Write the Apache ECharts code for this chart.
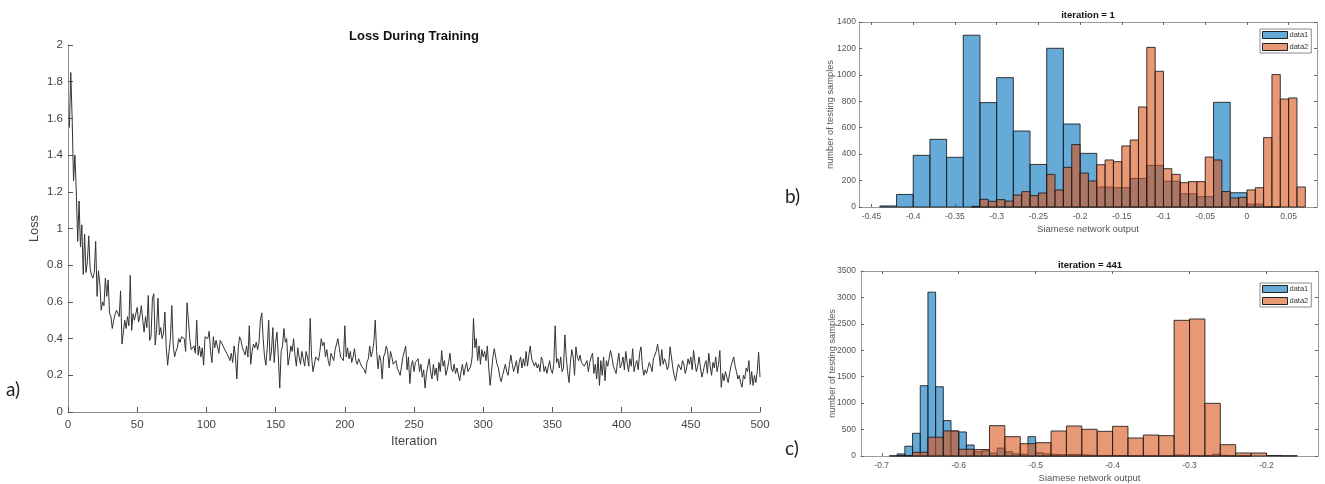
<!DOCTYPE html>
<html><head><meta charset="utf-8">
<script src="https://cdn.jsdelivr.net/npm/echarts@6/dist/echarts.min.js"></script>
<style>html,body{margin:0;padding:0;background:#fff}#c{width:1325px;height:484px}</style>
</head><body><div id="c"></div>
<script>
// ---------- a) Loss During Training (iterations 1..500) ----------
const lossValues = [
1.55,1.85,1.60,1.26,1.40,1.20,0.93,1.15,0.90,1.02,
0.75,0.97,0.76,0.82,0.96,0.78,0.745,0.73,0.76,0.93,
0.63,0.77,0.70,0.555,0.60,0.58,0.73,0.63,0.72,0.54,
0.52,0.455,0.50,0.53,0.555,0.54,0.52,0.66,0.37,0.38,
0.50,0.455,0.52,0.47,0.745,0.445,0.535,0.50,0.51,0.57,
0.49,0.525,0.58,0.50,0.435,0.52,0.46,0.635,0.39,0.41,
0.62,0.645,0.365,0.45,0.62,0.42,0.46,0.40,0.43,0.545,
0.35,0.255,0.33,0.40,0.58,0.37,0.30,0.33,0.35,0.40,
0.38,0.41,0.42,0.40,0.33,0.595,0.50,0.40,0.34,0.335,
0.36,0.32,0.50,0.31,0.36,0.30,0.35,0.255,0.41,0.42,
0.40,0.44,0.33,0.27,0.41,0.35,0.39,0.38,0.32,0.39,
0.39,0.36,0.35,0.33,0.34,0.30,0.28,0.32,0.27,0.36,
0.30,0.18,0.35,0.41,0.39,0.35,0.33,0.31,0.36,0.30,
0.47,0.26,0.33,0.37,0.35,0.38,0.34,0.38,0.50,0.54,
0.40,0.30,0.255,0.35,0.50,0.28,0.33,0.46,0.27,0.38,
0.435,0.30,0.13,0.33,0.36,0.455,0.38,0.40,0.255,0.30,
0.36,0.33,0.40,0.31,0.25,0.35,0.30,0.26,0.33,0.29,
0.25,0.33,0.30,0.25,0.51,0.30,0.22,0.23,0.30,0.29,
0.28,0.33,0.40,0.36,0.38,0.30,0.34,0.28,0.25,0.32,
0.30,0.28,0.34,0.33,0.40,0.35,0.30,0.31,0.28,0.47,
0.30,0.35,0.29,0.33,0.27,0.30,0.345,0.28,0.26,0.29,
0.27,0.25,0.26,0.23,0.21,0.27,0.29,0.36,0.30,0.33,
0.38,0.50,0.33,0.235,0.31,0.28,0.18,0.30,0.32,0.36,
0.33,0.24,0.33,0.30,0.26,0.25,0.28,0.235,0.22,0.20,
0.25,0.30,0.33,0.36,0.23,0.30,0.155,0.25,0.28,0.22,
0.27,0.28,0.29,0.22,0.26,0.19,0.23,0.13,0.21,0.20,
0.29,0.22,0.18,0.26,0.20,0.24,0.17,0.27,0.22,0.335,
0.25,0.28,0.20,0.23,0.27,0.32,0.24,0.22,0.26,0.21,
0.24,0.23,0.17,0.22,0.26,0.20,0.24,0.27,0.22,0.23,
0.25,0.30,0.51,0.35,0.40,0.28,0.36,0.26,0.34,0.30,
0.33,0.28,0.36,0.24,0.145,0.22,0.30,0.345,0.30,0.26,
0.24,0.19,0.165,0.20,0.23,0.26,0.22,0.20,0.26,0.31,
0.26,0.22,0.25,0.28,0.21,0.27,0.30,0.24,0.29,0.25,
0.33,0.25,0.31,0.36,0.29,0.30,0.25,0.27,0.24,0.26,
0.22,0.30,0.28,0.22,0.25,0.21,0.20,0.28,0.23,0.21,
0.26,0.47,0.27,0.29,0.24,0.30,0.22,0.24,0.42,0.30,
0.22,0.16,0.27,0.34,0.30,0.20,0.355,0.30,0.28,0.31,
0.27,0.26,0.25,0.245,0.28,0.22,0.27,0.30,0.32,0.21,
0.26,0.18,0.30,0.145,0.28,0.20,0.30,0.17,0.28,0.25,
0.26,0.335,0.30,0.25,0.23,0.21,0.27,0.32,0.24,0.26,
0.30,0.23,0.33,0.27,0.22,0.29,0.25,0.345,0.22,0.26,
0.28,0.23,0.32,0.355,0.25,0.20,0.23,0.21,0.24,0.27,
0.25,0.22,0.29,0.30,0.33,0.37,0.32,0.25,0.34,0.26,
0.29,0.27,0.23,0.25,0.355,0.30,0.24,0.20,0.17,0.22,
0.26,0.25,0.23,0.28,0.26,0.21,0.24,0.29,0.26,0.30,
0.23,0.335,0.27,0.22,0.25,0.30,0.24,0.19,0.22,0.26,
0.28,0.21,0.32,0.25,0.20,0.27,0.24,0.30,0.22,0.26,
0.335,0.135,0.21,0.17,0.22,0.19,0.16,0.21,0.25,0.24,
0.30,0.25,0.22,0.18,0.20,0.16,0.135,0.20,0.18,0.24,
0.22,0.28,0.15,0.22,0.145,0.20,0.16,0.22,0.325,0.19
];

// ---------- b) iteration = 1 ----------
const bData1Start = -0.44, bData1Width = 0.02;
const bData1Counts = [8,95,391,512,376,1300,790,979,575,322,1201,628,406,151,146,216,315,195,100,78,792,108,22,2];
const bData2Start = -0.33, bData2Width = 0.01;
const bData2Counts = [5,58,43,56,45,91,116,86,106,247,129,300,472,257,197,320,356,343,462,507,757,1208,1027,290,247,184,192,192,378,356,117,68,73,129,146,525,1002,817,825,151];
const bXTicks = [-0.45,-0.4,-0.35,-0.3,-0.25,-0.2,-0.15,-0.1,-0.05,0,0.05];

// ---------- c) iteration = 441 ----------
const cData1Start = -0.69, cData1Width = 0.01;
const cData1Counts = [5,40,185,430,1330,3100,1310,670,470,455,208,80,100,55,150,80,40,35,365,60,40,30,25,30,30,20,15,10,10,10,10,5,5,5,5,5,5,20,15,10,5,10,35,15,10,5,5];
const cData2Start = -0.68, cData2Width = 0.02;
const cData2Counts = [10,70,355,475,128,122,574,366,233,252,473,568,505,467,561,341,397,385,2567,2592,997,214,57,57,10,5];
const cXTicks = [-0.7,-0.6,-0.5,-0.4,-0.3,-0.2];

function bins(start, width, counts) {
  return counts.map((c, i) => [
    Math.round((start + i * width) * 1e6) / 1e6,
    Math.round((start + (i + 1) * width) * 1e6) / 1e6,
    c
  ]);
}

const BLUE = 'rgba(0,114,189,0.6)';
const ORANGE = 'rgba(217,83,25,0.6)';
const EDGE = 'rgba(25,25,25,0.85)';
const FONT = 'Liberation Sans, Arial, sans-serif';

function renderBin(params, api) {
  const p0 = api.coord([api.value(0), api.value(2)]);
  const p1 = api.coord([api.value(1), 0]);
  return {
    type: 'rect',
    shape: { x: p0[0], y: p0[1], width: p1[0] - p0[0], height: p1[1] - p0[1] },
    style: { fill: api.visual('color'), stroke: EDGE, lineWidth: 1 }
  };
}

const fmt = v => String(+(+v).toFixed(3));

function histX(grid, min, max, ticks, name) {
  return [
    { gridIndex: grid, type: 'value', min: min, max: max,
      axisLine: { onZero: false, lineStyle: { color: '#9a9a9a' } },
      axisTick: { inside: true, length: 3, customValues: ticks, lineStyle: { color: '#666' } },
      axisLabel: { customValues: ticks, formatter: fmt, fontSize: 8.5, color: '#555', margin: 5, fontFamily: FONT },
      splitLine: { show: false },
      name: name, nameLocation: 'middle', nameGap: 17, nameMoveOverlap: false,
      nameTextStyle: { fontSize: 9.5, color: '#555', fontFamily: FONT } },
    { gridIndex: grid, type: 'value', position: 'top', min: min, max: max,
      axisLine: { onZero: false, lineStyle: { color: '#9a9a9a' } },
      axisTick: { inside: true, length: 3, customValues: ticks, lineStyle: { color: '#666' } },
      axisLabel: { show: false }, splitLine: { show: false } }
  ];
}
function histY(grid, max, interval, margin) {
  return [
    { gridIndex: grid, type: 'value', min: 0, max: max, interval: interval,
      axisLine: { show: true, onZero: false, lineStyle: { color: '#9a9a9a' } },
      axisTick: { show: true, inside: true, length: 3, lineStyle: { color: '#666' } },
      axisLabel: { formatter: v => String(v), fontSize: 8.5, color: '#555', margin: margin, fontFamily: FONT },
      splitLine: { show: false },
      name: 'number of testing samples', nameLocation: 'middle', nameGap: 24, nameMoveOverlap: false,
      nameTextStyle: { fontSize: 9.3, color: '#555', fontFamily: FONT } },
    { gridIndex: grid, type: 'value', position: 'right', min: 0, max: max, interval: interval,
      axisLine: { show: true, onZero: false, lineStyle: { color: '#9a9a9a' } },
      axisTick: { show: true, inside: true, length: 3, lineStyle: { color: '#666' } },
      axisLabel: { show: false }, splitLine: { show: false } }
  ];
}

function legendAt(left, top) {
  return {
    left: left, top: top, orient: 'vertical',
    padding: [2, 3, 2, 2], itemGap: 4, itemWidth: 25, itemHeight: 7,
    borderColor: '#8a8a8a', borderWidth: 1, backgroundColor: '#fff',
    icon: 'rect', selectedMode: false,
    itemStyle: { borderColor: '#222', borderWidth: 1 },
    textStyle: { fontSize: 7.5, color: '#333', fontFamily: FONT, padding: [0, 0, 0, -3] },
    data: ['data1', 'data2']
  };
}

const chart = echarts.init(document.getElementById('c'), null, { renderer: 'canvas' });
chart.setOption({
  animation: false,
  backgroundColor: '#fff',
  grid: [
    { left: 68, top: 45, width: 692, height: 367 },
    { left: 859, top: 22, width: 458, height: 185 },
    { left: 861, top: 271, width: 457, height: 185 }
  ],
  xAxis: [
    { gridIndex: 0, type: 'value', min: 0, max: 500, interval: 50,
      axisLine: { onZero: false, lineStyle: { color: '#8c8c8c' } },
      axisTick: { inside: true, length: 5, lineStyle: { color: '#555' } },
      axisLabel: { fontSize: 11.5, color: '#444', margin: 7, fontFamily: FONT },
      splitLine: { show: false },
      name: 'Iteration', nameLocation: 'middle', nameGap: 23, nameMoveOverlap: false,
      nameTextStyle: { fontSize: 12.8, color: '#444', fontFamily: FONT } }
  ].concat(histX(1, -0.465, 0.084, bXTicks, 'Siamese network output'))
   .concat(histX(2, -0.727, -0.133, cXTicks, 'Siamese network output')),
  yAxis: [
    { gridIndex: 0, type: 'value', min: 0, max: 2, interval: 0.2,
      axisLine: { show: true, onZero: false, lineStyle: { color: '#8c8c8c' } },
      axisTick: { show: true, inside: true, length: 5, lineStyle: { color: '#555' } },
      axisLabel: { fontSize: 11.5, color: '#444', margin: 5, fontFamily: FONT },
      splitLine: { show: false },
      name: 'Loss', nameLocation: 'middle', nameGap: 27, nameMoveOverlap: false,
      nameTextStyle: { fontSize: 12.8, color: '#444', fontFamily: FONT } }
  ].concat(histY(1, 1400, 200, 3)).concat(histY(2, 3500, 500, 5)),
  legend: [legendAt(1260, 29), legendAt(1260, 283)],
  series: [
    { type: 'line', xAxisIndex: 0, yAxisIndex: 0, showSymbol: false, symbol: 'none',
      lineStyle: { color: '#333', width: 1 },
      data: lossValues.map((v, i) => [i + 1, v]) },
    { name: 'data1', type: 'custom', xAxisIndex: 1, yAxisIndex: 1, renderItem: renderBin,
      itemStyle: { color: BLUE, borderColor: '#222', borderWidth: 1 },
      encode: { x: [0, 1], y: 2 }, data: bins(bData1Start, bData1Width, bData1Counts) },
    { name: 'data2', type: 'custom', xAxisIndex: 1, yAxisIndex: 1, renderItem: renderBin,
      itemStyle: { color: ORANGE, borderColor: '#222', borderWidth: 1 },
      encode: { x: [0, 1], y: 2 }, data: bins(bData2Start, bData2Width, bData2Counts) },
    { name: 'data1', type: 'custom', xAxisIndex: 3, yAxisIndex: 3, renderItem: renderBin,
      itemStyle: { color: BLUE, borderColor: '#222', borderWidth: 1 },
      encode: { x: [0, 1], y: 2 }, data: bins(cData1Start, cData1Width, cData1Counts) },
    { name: 'data2', type: 'custom', xAxisIndex: 3, yAxisIndex: 3, renderItem: renderBin,
      itemStyle: { color: ORANGE, borderColor: '#222', borderWidth: 1 },
      encode: { x: [0, 1], y: 2 }, data: bins(cData2Start, cData2Width, cData2Counts) }
  ],
  graphic: [
    { type: 'text', x: 414, y: 36, style: { text: 'Loss During Training', fill: '#111', font: 'bold 13px ' + FONT, textAlign: 'center', textVerticalAlign: 'middle' } },
    { type: 'text', x: 1088, y: 15, style: { text: 'iteration = 1', fill: '#111', font: 'bold 9.5px ' + FONT, textAlign: 'center', textVerticalAlign: 'middle' } },
    { type: 'text', x: 1090, y: 265, style: { text: 'iteration = 441', fill: '#111', font: 'bold 9.5px ' + FONT, textAlign: 'center', textVerticalAlign: 'middle' } },
    { type: 'text', x: 6, y: 390, style: { text: 'a)', fill: '#222', font: '19px Lato, sans-serif', textAlign: 'left', textVerticalAlign: 'middle' } },
    { type: 'text', x: 785, y: 197, style: { text: 'b)', fill: '#222', font: '19px Lato, sans-serif', textAlign: 'left', textVerticalAlign: 'middle' } },
    { type: 'text', x: 785, y: 449, style: { text: 'c)', fill: '#222', font: '19px Lato, sans-serif', textAlign: 'left', textVerticalAlign: 'middle' } }
  ]
});
</script>
</body></html>
